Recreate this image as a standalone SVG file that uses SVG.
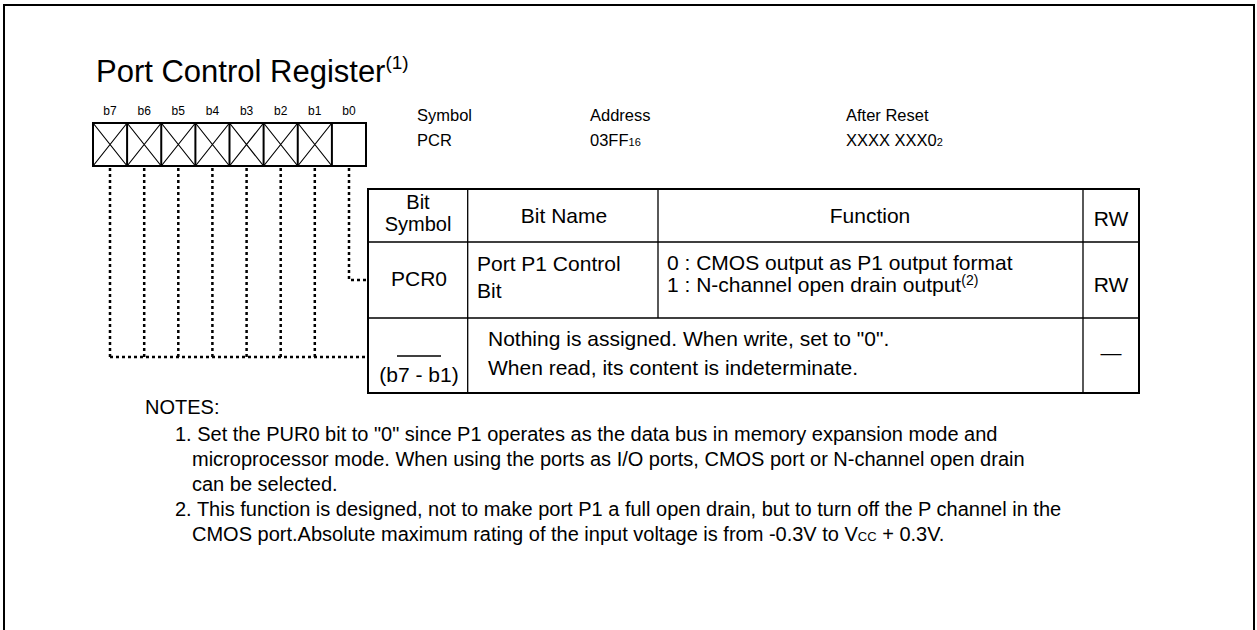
<svg xmlns="http://www.w3.org/2000/svg" width="1257" height="630" viewBox="0 0 1257 630">
<style>
text{font-family:"Liberation Sans",Arial,sans-serif;fill:#000}
.t{font-size:31px}
.b{font-size:12px}
.i{font-size:16.5px}
.s{font-size:21px}
.n{font-size:20px}
.c{text-anchor:middle}
.box{fill:#fff;stroke:#000;stroke-width:2}
.x{stroke:#000;stroke-width:1.2;fill:none}
.g{stroke:#000;stroke-width:1.3;fill:none}
.d{stroke:#000;stroke-width:2.5;fill:none;stroke-dasharray:3 3}
</style>
<rect x="4" y="5" width="1250" height="640" fill="#fff" stroke="#000" stroke-width="2"/>
<g id="title">
<text class="t" x="96" y="82">Port Control Register<tspan font-size="19" dy="-13">(1)</tspan></text>
</g>
<g id="info">
<text class="i" x="417" y="121">Symbol</text>
<text class="i" x="417" y="146">PCR</text>
<text class="i" x="590" y="121">Address</text>
<text class="i" x="590" y="146">03FF<tspan font-size="11">16</tspan></text>
<text class="i" x="846" y="121">After Reset</text>
<text class="i" x="846" y="146">XXXX XXX0<tspan font-size="11">2</tspan></text>
</g>
<g id="register">
<g class="b">
<text class="c" x="110" y="115">b7</text>
<text class="c" x="144.2" y="115">b6</text>
<text class="c" x="178.3" y="115">b5</text>
<text class="c" x="212.4" y="115">b4</text>
<text class="c" x="246.6" y="115">b3</text>
<text class="c" x="280.7" y="115">b2</text>
<text class="c" x="314.8" y="115">b1</text>
<text class="c" x="349" y="115">b0</text>
</g>
<rect class="box" x="93" y="123" width="273" height="43"/>
<path class="x" d="M93,123 L127.1,166 M127.1,123 L93,166 M127.1,123 L161.25,166 M161.25,123 L127.1,166 M161.25,123 L195.4,166 M195.4,123 L161.25,166 M195.4,123 L229.5,166 M229.5,123 L195.4,166 M229.5,123 L263.6,166 M263.6,123 L229.5,166 M263.6,123 L297.75,166 M297.75,123 L263.6,166 M297.75,123 L331.9,166 M331.9,123 L297.75,166"/>
<path stroke="#000" stroke-width="2" fill="none" d="M127.1,123 V166 M161.25,123 V166 M195.4,123 V166 M229.5,123 V166 M263.6,123 V166 M297.75,123 V166 M331.9,123 V166"/>
</g>
<g id="connectors">
<path class="d" d="M110,168 V357 M144.2,168 V357 M178.3,168 V357 M212.4,168 V357 M246.6,168 V357 M280.7,168 V357 M314.8,168 V357 M110,357 H368"/>
<path class="d" d="M349,168 V280 H368"/>
</g>
<g id="table">
<rect x="368" y="189" width="771" height="204" fill="none" stroke="#000" stroke-width="2"/>
<path class="g" d="M368,242 H1139 M368,318 H1139 M467.7,189 V393 M658,189 V318 M1083,189 V393"/>
<g class="s">
<text class="c" x="418" y="209" font-size="20">Bit</text>
<text class="c" x="418" y="231" font-size="20">Symbol</text>
<text class="c" x="564" y="223">Bit Name</text>
<text class="c" x="870" y="223">Function</text>
<text class="c" x="1111" y="226">RW</text>
<text class="c" x="419" y="286">PCR0</text>
<text x="477" y="271">Port P1 Control</text>
<text x="477" y="298">Bit</text>
<text x="667" y="270">0 : CMOS output as P1 output format</text>
<text x="667" y="292">1 : N-channel open drain output<tspan font-size="14" dy="-7">(2)</tspan></text>
<text class="c" x="1111" y="292">RW</text>
<text class="c" x="419" y="382">(b7 - b1)</text>
<text x="488" y="346">Nothing is assigned. When write, set to "0".</text>
<text x="488" y="375">When read, its content is indeterminate.</text>
<text class="c" x="1111" y="360">—</text>
</g>
<path class="g" d="M397,356 H441"/>
</g>
<g id="notes" class="n">
<text x="145" y="414">NOTES:</text>
<text x="175" y="441">1. Set the PUR0 bit to "0" since P1 operates as the data bus in memory expansion mode and</text>
<text x="192" y="466">microprocessor mode. When using the ports as I/O ports, CMOS port or N-channel open drain</text>
<text x="192" y="491">can be selected.</text>
<text x="175" y="516">2. This function is designed, not to make port P1 a full open drain, but to turn off the P channel in the</text>
<text x="192" y="541">CMOS port.Absolute maximum rating of the input voltage is from -0.3V to V<tspan font-size="13">CC</tspan> + 0.3V.</text>
</g>
</svg>
